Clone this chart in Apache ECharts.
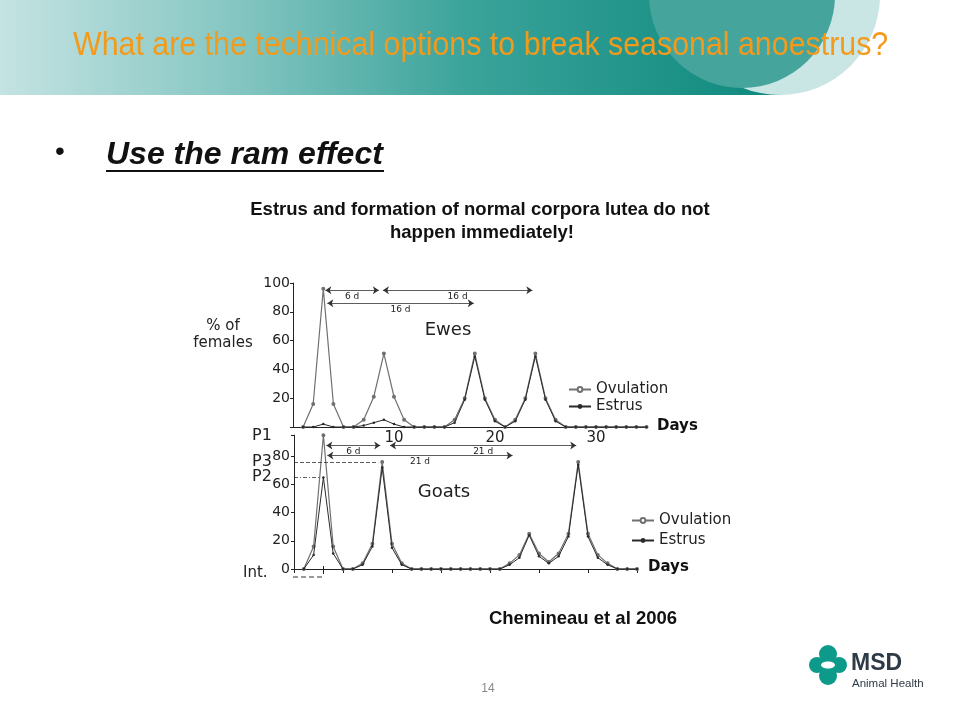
<!DOCTYPE html>
<html><head><meta charset="utf-8">
<script src="https://cdn.jsdelivr.net/npm/echarts@6/dist/echarts.min.js"></script>
<style>html,body{margin:0;padding:0;background:#fff}#c{width:960px;height:720px}</style>
</head><body><div id="c"></div>
<script>
// ---- data ----
const days = [1,2,3,4,5,6,7,8,9,10,11,12,13,14,15,16,17,18,19,20,21,22,23,24,25,26,27,28,29,30,31,32,33,34,35];
const ewesOvulation = [0,16,96,16,0,0,5,21,51,21,5,0, 0,0,0, 5,20,51,20,5,0,5,20,51,20,5, 0,0,0,0,0,0,0,0,0];
const ewesEstrus    = [0,0,2,0,0,0,1,3,5,2,0,0, 0,0,0, 3,19,49,19,4,0,4,19,49,19,4, 0,0,0,0,0,0,0,0,0];
const goatsOvulation = [0,16,95,16,0,0,4,18,76,18,4,0, 0,0,0,0,0,0,0,0,0, 4,10,25,11,5,11,25,76,25,10,4, 0,0,0];
const goatsEstrus    = [0,10,65,11,0,0,3,16,72,15,3,0, 0,0,0,0,0,0,0,0,0, 3,8,24,9,4,9,23,74,23,8,3, 0,0,0];
const ewesYTicks = [20,40,60,80,100];
const ewesXTicks = [10,20,30];
const goatsYTicks = [0,20,40,60,80];
const seriesNames = ['Ovulation','Estrus'];

const pairs = (vals) => days.map((d,i)=>[d, vals[i]]);
const chart = echarts.init(document.getElementById('c'), null, {renderer:'canvas'});
const F = '"DejaVu Sans", sans-serif';
const axisLine = {show:true, lineStyle:{color:'#222', width:1}};

function arrowSeg(x1,x2,y,label){
  return [{coord:[x1,y], symbol:'arrow', label:{show:true, formatter:label}}, {coord:[x2,y], symbol:'arrow'}];
}
function dashSeg(x1,x2,y,type){
  return [{coord:[x1,y], symbol:'none', lineStyle:{type:type}, label:{show:false}}, {coord:[x2,y], symbol:'none'}];
}
const markBase = {
  silent:true, animation:false, symbolSize:6,
  lineStyle:{color:'#333', width:0.8, type:'solid'},
  label:{show:true, position:'insideMiddleBottom', fontSize:9, fontFamily:F, color:'#222', distance:2}
};

const lineStyleOv = {color:'#707070', width:1.2};
const lineStyleEs = {color:'#2a2a2a', width:1};

const option = {
  backgroundColor:'#fff',
  animation:false,
  grid:[
    {left:293, top:283, width:353.5, height:144},
    {left:294, top:435.2, width:343, height:133.8}
  ],
  xAxis:[
    {gridIndex:0, type:'value', min:0, max:35, interval:10,
     axisLine:axisLine, axisTick:{show:false}, splitLine:{show:false},
     axisLabel:{margin:4, fontSize:15, fontFamily:F, color:'#222',
       formatter:v=> ewesXTicks.includes(v)? String(v):''}},
    {gridIndex:1, type:'value', min:0, max:35, interval:5,
     axisLine:axisLine, axisTick:{show:true, length:4, lineStyle:{color:'#222'}}, splitLine:{show:false},
     axisLabel:{show:false}}
  ],
  yAxis:[
    {gridIndex:0, type:'value', min:0, max:100, interval:20,
     axisLine:axisLine, axisTick:{show:true, length:3, lineStyle:{color:'#222'}}, splitLine:{show:false},
     axisLabel:{margin:3, fontSize:14, fontFamily:F, color:'#222',
       formatter:v=> ewesYTicks.includes(v)? String(v):''}},
    {gridIndex:1, type:'value', min:0, max:95, interval:20,
     axisLine:axisLine, axisTick:{show:true, length:3, lineStyle:{color:'#222'}}, splitLine:{show:false},
     axisLabel:{margin:4, fontSize:14, fontFamily:F, color:'#222',
       formatter:v=> goatsYTicks.includes(v)? String(v):''}}
  ],
  legend:[
    {data:seriesNames, orient:'vertical', left:563, top:377, itemGap:2, itemWidth:22, itemHeight:6,
     textStyle:{fontSize:15, fontFamily:F, color:'#222'}, selectedMode:false},
    {data:seriesNames, orient:'vertical', left:626, top:508, itemGap:5, itemWidth:22, itemHeight:6,
     textStyle:{fontSize:15, fontFamily:F, color:'#222'}, selectedMode:false}
  ],
  series:[
    {name:seriesNames[0], type:'line', xAxisIndex:0, yAxisIndex:0, data:pairs(ewesOvulation),
     symbol:'emptyCircle', symbolSize:2, itemStyle:{color:'#707070'}, lineStyle:lineStyleOv, z:2,
     markLine:Object.assign({}, markBase, {data:[
       arrowSeg(3.2, 8.5, 95, '6 d'),
       arrowSeg(8.9, 23.7, 95, '16 d'),
       arrowSeg(3.4, 17.9, 86, '16 d')
     ]})},
    {name:seriesNames[1], type:'line', xAxisIndex:0, yAxisIndex:0, data:pairs(ewesEstrus),
     symbol:'circle', symbolSize:2.5, itemStyle:{color:'#2a2a2a'}, lineStyle:lineStyleEs, z:3},
    {name:seriesNames[0], type:'line', xAxisIndex:1, yAxisIndex:1, data:pairs(goatsOvulation),
     symbol:'emptyCircle', symbolSize:2, itemStyle:{color:'#707070'}, lineStyle:lineStyleOv, z:2,
     markLine:Object.assign({}, markBase, {data:[
       arrowSeg(3.3, 8.8, 87.7, '6 d'),
       arrowSeg(9.8, 28.8, 87.7, '21 d'),
       arrowSeg(3.4, 22.3, 80.5, '21 d'),
       dashSeg(-0.3, 2.9, 94.5, [4,2]),
       dashSeg(0, 8.6, 76, [4,2]),
       dashSeg(0, 2.6, 65, [4,2,1,2])
     ]})},
    {name:seriesNames[1], type:'line', xAxisIndex:1, yAxisIndex:1, data:pairs(goatsEstrus),
     symbol:'circle', symbolSize:2.5, itemStyle:{color:'#2a2a2a'}, lineStyle:lineStyleEs, z:3}
  ],
  graphic:[
    // header band
    {type:'rect', shape:{x:0,y:0,width:782,height:95}, silent:true,
     style:{fill:new echarts.graphic.LinearGradient(0,0,1,0,[
       {offset:0,color:'#c4e3e2'},{offset:0.3,color:'#85c6c2'},{offset:0.6,color:'#3aa39a'},{offset:1,color:'#0e897d'}])}},
    {type:'circle', shape:{cx:780, cy:-5, r:100}, silent:true, style:{fill:'#c9e5e4'}},
    {type:'circle', shape:{cx:742, cy:-5, r:93}, silent:true, style:{fill:'#45a59d'}},
    {type:'text', x:73, y:46, scaleX:0.893, originX:0, originY:0, silent:true,
     style:{text:'What are the technical options to break seasonal anoestrus?', fill:'#f39a1b', textVerticalAlign:'middle',
       font:'34px "Liberation Sans", Arial, sans-serif'}},
    // bullet heading
    {type:'text', left:55, top:138, silent:true, style:{text:'\u2022', fill:'#111', font:'28px "Liberation Sans", Arial, sans-serif'}},
    {type:'text', x:106, y:155, silent:true,
     style:{text:'Use the ram effect', fill:'#111', textVerticalAlign:'middle', font:'italic bold 32px "Liberation Sans", Arial, sans-serif'}},
    {type:'rect', shape:{x:106,y:170,width:278,height:2}, silent:true, style:{fill:'#111'}},
    // subtitle
    {type:'text', x:480, y:210, silent:true,
     style:{text:'Estrus and formation of normal corpora lutea do not', fill:'#111', textAlign:'center', textVerticalAlign:'middle',
       font:'bold 18.5px "Liberation Sans", Arial, sans-serif'}},
    {type:'text', x:482, y:233, silent:true,
     style:{text:'happen immediately!', fill:'#111', textAlign:'center', textVerticalAlign:'middle',
       font:'bold 18.5px "Liberation Sans", Arial, sans-serif'}},
    // chart labels
    {type:'text', x:223, y:326, silent:true, style:{text:'% of', fill:'#222', textAlign:'center', textVerticalAlign:'middle', font:'15px '+F}},
    {type:'text', x:223, y:343, silent:true, style:{text:'females', fill:'#222', textAlign:'center', textVerticalAlign:'middle', font:'15px '+F}},
    {type:'text', x:448, y:330, silent:true, style:{text:'Ewes', fill:'#222', textAlign:'center', textVerticalAlign:'middle', font:'18px '+F}},
    {type:'text', x:444, y:492, silent:true, style:{text:'Goats', fill:'#222', textAlign:'center', textVerticalAlign:'middle', font:'18px '+F}},
    {type:'text', x:657, y:426, silent:true, style:{text:'Days', fill:'#111', textVerticalAlign:'middle', font:'bold 15px '+F}},
    {type:'text', x:648, y:567, silent:true, style:{text:'Days', fill:'#111', textVerticalAlign:'middle', font:'bold 15px '+F}},
    {type:'text', x:252, y:436, silent:true, style:{text:'P1', fill:'#222', textVerticalAlign:'middle', font:'16px '+F}},
    {type:'text', x:252, y:462, silent:true, style:{text:'P3', fill:'#222', textVerticalAlign:'middle', font:'16px '+F}},
    {type:'text', x:252, y:477, silent:true, style:{text:'P2', fill:'#222', textVerticalAlign:'middle', font:'16px '+F}},
    {type:'text', x:243, y:573, silent:true, style:{text:'Int.', fill:'#222', textVerticalAlign:'middle', font:'15px '+F}},
    {type:'line', shape:{x1:293,y1:577,x2:323,y2:577}, silent:true, style:{stroke:'#333', lineWidth:1, lineDash:[5,3]}},
    {type:'line', shape:{x1:323.5,y1:566,x2:323.5,y2:574}, silent:true, style:{stroke:'#222', lineWidth:1}},
    // citation, page number
    {type:'text', x:583, y:619, silent:true,
     style:{text:'Chemineau et al 2006', fill:'#111', textAlign:'center', textVerticalAlign:'middle',
       font:'bold 18.5px "Liberation Sans", Arial, sans-serif'}},
    {type:'text', x:488, y:689, silent:true,
     style:{text:'14', fill:'#8a8a8a', textAlign:'center', textVerticalAlign:'middle', font:'12px "Liberation Sans", Arial, sans-serif'}},
    // MSD logo
    {type:'circle', shape:{cx:828, cy:654, r:9}, silent:true, style:{fill:'#0d9a8b'}},
    {type:'circle', shape:{cx:828, cy:676, r:9}, silent:true, style:{fill:'#0d9a8b'}},
    {type:'circle', shape:{cx:817, cy:665, r:8}, silent:true, style:{fill:'#0d9a8b'}},
    {type:'circle', shape:{cx:839, cy:665, r:8}, silent:true, style:{fill:'#0d9a8b'}},
    {type:'ellipse', shape:{cx:828, cy:665, rx:7, ry:3.5}, silent:true, style:{fill:'#ffffff'}},
    {type:'text', x:851, y:664, silent:true, style:{text:'MSD', fill:'#2e3a46', textVerticalAlign:'middle', font:'bold 23px "Liberation Sans", Arial, sans-serif'}},
    {type:'text', x:852, y:684, silent:true, style:{text:'Animal Health', fill:'#2e3a46', textVerticalAlign:'middle', font:'11.5px "Liberation Sans", Arial, sans-serif'}}
  ]
};
chart.setOption(option);
</script>
</body></html>
